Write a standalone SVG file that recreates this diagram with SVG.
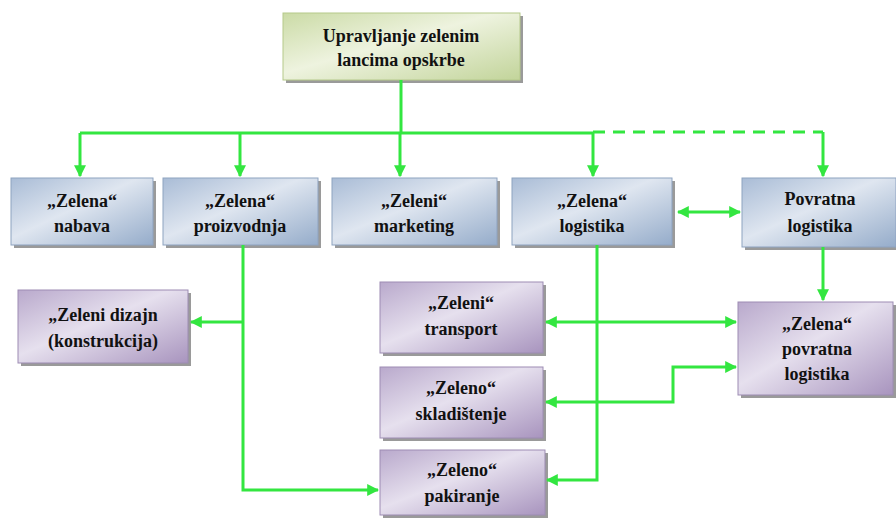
<svg xmlns="http://www.w3.org/2000/svg" width="896" height="522" viewBox="0 0 896 522" font-family="'Liberation Serif', 'DejaVu Serif', serif">
<defs>
<linearGradient id="gBlue" x1="0" y1="0" x2="1" y2="1">
<stop offset="0" stop-color="#a9bcd6"/><stop offset="0.45" stop-color="#dfe6f0"/><stop offset="1" stop-color="#95acca"/>
</linearGradient>
<linearGradient id="gPurple" x1="0" y1="0" x2="1" y2="1">
<stop offset="0" stop-color="#b9a9cc"/><stop offset="0.45" stop-color="#e6e0ee"/><stop offset="1" stop-color="#a894be"/>
</linearGradient>
<linearGradient id="gGreen" x1="0" y1="0" x2="1" y2="1">
<stop offset="0" stop-color="#cbdba6"/><stop offset="0.45" stop-color="#eef3df"/><stop offset="1" stop-color="#c2d49a"/>
</linearGradient>
<marker id="ah" viewBox="0 0 10 10" refX="9" refY="5" markerWidth="4" markerHeight="4" orient="auto-start-reverse" markerUnits="strokeWidth">
<path d="M0,0 L10,5 L0,10 z" fill="#33e640"/>
</marker>
</defs>
<style>
.sh{fill:#9a9a9a;}
.b{fill:url(#gBlue);stroke:#8ea3c0;stroke-width:1;}
.p{fill:url(#gPurple);stroke:#9d8cb3;stroke-width:1;}
.g{fill:url(#gGreen);stroke:#b5c98a;stroke-width:1;}
text{font-family:'Liberation Serif','DejaVu Serif',serif;font-weight:bold;font-size:18px;fill:#111;text-anchor:middle;}
.c{fill:none;stroke:#33e640;stroke-width:3;}
.d{stroke-dasharray:12,8;}
</style>
<rect width="896" height="522" fill="#fff"/>
<g id="top">
<rect class="sh" x="286" y="16" width="237" height="67"/>
<rect class="g" x="283" y="13" width="237" height="67"/>
<text x="401" y="42">Upravljanje zelenim</text>
<text x="401" y="66">lancima opskrbe</text>
</g>
<g id="nabava">
<rect class="sh" x="14" y="181" width="142" height="67"/>
<rect class="b" x="11" y="178" width="142" height="67"/>
<text x="82" y="207">„Zelena“</text>
<text x="82" y="232">nabava</text>
</g>
<g id="proizvodnja">
<rect class="sh" x="166" y="181" width="155" height="67"/>
<rect class="b" x="163" y="178" width="155" height="67"/>
<text x="240" y="207">„Zelena“</text>
<text x="240" y="232">proizvodnja</text>
</g>
<g id="marketing">
<rect class="sh" x="335" y="181" width="165" height="67"/>
<rect class="b" x="332" y="178" width="165" height="67"/>
<text x="414" y="207">„Zeleni“</text>
<text x="414" y="232">marketing</text>
</g>
<g id="logistika">
<rect class="sh" x="515" y="181" width="160" height="67"/>
<rect class="b" x="512" y="178" width="160" height="67"/>
<text x="592" y="207">„Zelena“</text>
<text x="592" y="232">logistika</text>
</g>
<g id="povratna">
<rect class="sh" x="745" y="181" width="154" height="69"/>
<rect class="b" x="742" y="178" width="154" height="69"/>
<text x="820" y="205">Povratna</text>
<text x="820" y="232">logistika</text>
</g>
<g id="dizajn">
<rect class="sh" x="21" y="293" width="170" height="73"/>
<rect class="p" x="18" y="290" width="170" height="73"/>
<text x="103" y="321">„Zeleni dizajn</text>
<text x="103" y="347">(konstrukcija)</text>
</g>
<g id="transport">
<rect class="sh" x="383" y="285" width="163" height="71"/>
<rect class="p" x="380" y="282" width="163" height="71"/>
<text x="461" y="309">„Zeleni“</text>
<text x="461" y="335">transport</text>
</g>
<g id="skladistenje">
<rect class="sh" x="383" y="370" width="163" height="71"/>
<rect class="p" x="380" y="367" width="163" height="71"/>
<text x="461" y="394">„Zeleno“</text>
<text x="461" y="420">skladištenje</text>
</g>
<g id="pakiranje">
<rect class="sh" x="383" y="453" width="165" height="65"/>
<rect class="p" x="380" y="450" width="165" height="65"/>
<text x="462" y="476">„Zeleno“</text>
<text x="462" y="502">pakiranje</text>
</g>
<g id="zpovratna">
<rect class="sh" x="741" y="305" width="155" height="93"/>
<rect class="p" x="738" y="302" width="155" height="93"/>
<text x="817" y="330">„Zelena“</text>
<text x="817" y="355">povratna</text>
<text x="817" y="380">logistika</text>
</g>
<g id="connectors">
<path class="c" d="M401,80 V133"/>
<path class="c" d="M80,133 H593"/>
<path class="c" d="M80,133 V176" marker-end="url(#ah)"/>
<path class="c" d="M240,133 V176" marker-end="url(#ah)"/>
<path class="c" d="M400,133 V176" marker-end="url(#ah)"/>
<path class="c" d="M593,133 V176" marker-end="url(#ah)"/>
<path class="c d" d="M593,132 H823"/>
<path class="c" d="M823,132 V176" marker-end="url(#ah)"/>
<path class="c" d="M678,212 H740" marker-start="url(#ah)" marker-end="url(#ah)"/>
<path class="c" d="M823,247 V300" marker-end="url(#ah)"/>
<path class="c" d="M243,245 V490 H378" marker-end="url(#ah)"/>
<path class="c" d="M243,322 H191" marker-end="url(#ah)"/>
<path class="c" d="M597,245 V480 H547" marker-end="url(#ah)"/>
<path class="c" d="M546,322 H736" marker-start="url(#ah)" marker-end="url(#ah)"/>
<path class="c" d="M736,367 H673 V402 H546" marker-start="url(#ah)" marker-end="url(#ah)"/>
</g>
</svg>
